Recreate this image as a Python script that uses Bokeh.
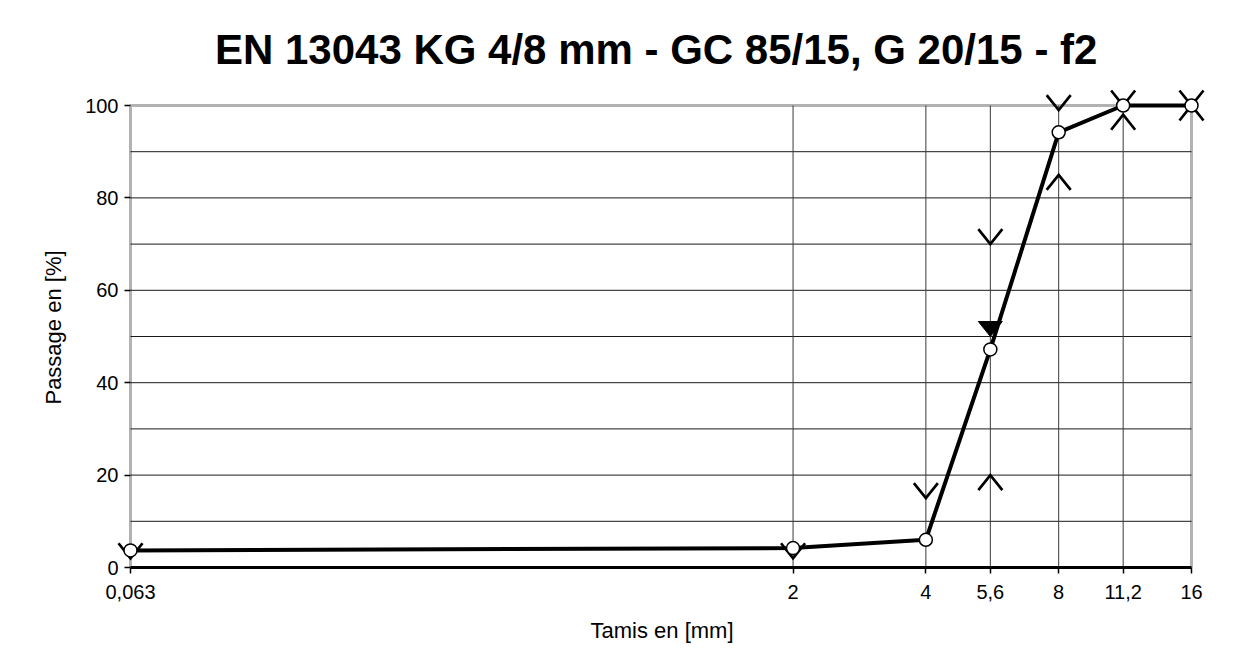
import math
from bokeh.plotting import figure
from bokeh.models import FixedTicker, ColumnDataSource, Range1d, BoxAnnotation
from bokeh.embed import file_html
from bokeh.resources import INLINE

# ---- data ----
sieves = [0.063, 2, 4, 5.6, 8, 11.2, 16]
sieve_labels = ["0,063", "2", "4", "5,6", "8", "11,2", "16"]
passing = [3.7, 4.2, 6.0, 47.2, 94.2, 100, 100]
upper_sieves = [0.063, 2, 4, 5.6, 8, 11.2, 16]
upper_limits = [2, 2, 15, 70, 99, 100, 100]
lower_sieves = [5.6, 8, 11.2, 16]
lower_limits = [20, 85, 98, 100]
declared_sieve = [5.6]
declared_value = [50]
y_ticks = [0, 20, 40, 60, 80, 100]
y_grid = [10, 20, 30, 40, 50, 60, 70, 80, 90]
x_grid = [2, 4, 5.6, 8, 11.2]

# ---- layout constants ----
X_MIN, X_MAX = 0.063, 16
Y_MIN, Y_MAX = 0, 100
INNER_W, INNER_H = 1061, 462          # visible plot box in px
EXT_L, EXT_R, EXT_T = 14, 16, 18      # room so edge markers are not clipped
ML, MR, MT, MB = 116, 26, 87, 84
W = ML + INNER_W + EXT_L + EXT_R + MR
H = MT + INNER_H + EXT_T + MB
ppd = INNER_W / (math.log10(X_MAX) - math.log10(X_MIN))
ppu = INNER_H / (Y_MAX - Y_MIN)
ARM_X_PX, ARM_Y_PX = 12, 15
fx = 10 ** (ARM_X_PX / ppd)
dy = ARM_Y_PX / ppu

FONT = "Liberation Sans"

p = figure(width=W, height=H, x_axis_type="log",
           x_range=Range1d(X_MIN / 10 ** (EXT_L / ppd), X_MAX * 10 ** (EXT_R / ppd)),
           y_range=Range1d(Y_MIN, Y_MAX + EXT_T / ppu),
           output_backend="svg", toolbar_location=None,
           min_border_left=ML, min_border_right=MR,
           min_border_top=MT, min_border_bottom=MB)

p.title.text = "EN 13043  KG 4/8 mm - GC 85/15, G 20/15 - f2"
p.title.text_font = FONT
p.title.text_font_size = "42px"
p.title.text_font_style = "bold"
p.title.text_color = "black"
p.title.align = "center"
p.title.standoff = 30

p.outline_line_color = None
p.grid.visible = False

# axes
xa = p.xaxis[0]
xa.ticker = FixedTicker(ticks=sieves)
xa.major_label_overrides = {s: l for s, l in zip(sieves, sieve_labels)}
xa.bounds = (X_MIN, X_MAX)
ya = p.yaxis[0]
ya.ticker = FixedTicker(ticks=y_ticks)
ya.bounds = (Y_MIN, Y_MAX)
for ax in (xa, ya):
    ax.axis_line_color = "black"
    ax.axis_line_width = 3
    ax.major_tick_line_color = "black"
    ax.major_tick_line_width = 1.5
    ax.major_tick_out = 6
    ax.major_tick_in = 0
    ax.minor_tick_line_color = None
    ax.major_label_text_font = FONT
    ax.major_label_text_font_size = "20px"
    ax.major_label_text_color = "black"
    ax.axis_label_text_font = FONT
    ax.axis_label_text_font_size = "22px"
    ax.axis_label_text_font_style = "normal"
    ax.axis_label_text_color = "black"
xa.axis_label = "Tamis en [mm]"
ya.axis_label = "Passage en [%]"
xa.major_label_standoff = 11
xa.axis_label_standoff = 16
# y axis sits at the widened frame edge; ticks are shifted onto the plot box edge
ya.axis_line_color = None
ya.major_tick_in = EXT_L
ya.major_tick_out = -(EXT_L - 6)
ya.major_label_standoff = -2
ya.axis_label_standoff = 16

# grid lines limited to the plot box
p.segment(x0=[X_MIN] * len(y_grid), y0=y_grid, x1=[X_MAX] * len(y_grid), y1=y_grid,
          line_color="#1a1a1a", line_width=1)
p.segment(x0=x_grid, y0=[Y_MIN] * len(x_grid), x1=x_grid, y1=[Y_MAX] * len(x_grid),
          line_color="#3a3a3a", line_width=1)

# plot box
p.add_layout(BoxAnnotation(left=X_MIN, right=X_MAX, bottom=Y_MIN, top=Y_MAX,
                           fill_color=None, line_color="black", line_width=3,
                           level="underlay"))

# upper limit markers (V)
up_src = ColumnDataSource(dict(
    xs=[[x / fx, x, x * fx] for x in upper_sieves],
    ys=[[v + dy, v, v + dy] for v in upper_limits]))
p.multi_line("xs", "ys", source=up_src, line_color="black", line_width=2.7,
             line_join="miter")
# lower limit markers (^)
lo_src = ColumnDataSource(dict(
    xs=[[x / fx, x, x * fx] for x in lower_sieves],
    ys=[[v - dy, v, v - dy] for v in lower_limits]))
p.multi_line("xs", "ys", source=lo_src, line_color="black", line_width=2.7,
             line_join="miter")

# grading curve
src = ColumnDataSource(dict(x=sieves, y=passing))
p.line("x", "y", source=src, line_color="black", line_width=4)

# declared value (filled inverted triangle)
dec_src = ColumnDataSource(dict(
    xs=[[x / fx, x * fx, x] for x in declared_sieve],
    ys=[[v + dy, v + dy, v] for v in declared_value]))
p.patches("xs", "ys", source=dec_src, fill_color="black", line_color="black",
          line_width=1)

p.scatter("x", "y", source=src, marker="circle", size=13,
          fill_color="white", line_color="black", line_width=1.5)

open("out.html", "w").write(file_html(p, INLINE))
